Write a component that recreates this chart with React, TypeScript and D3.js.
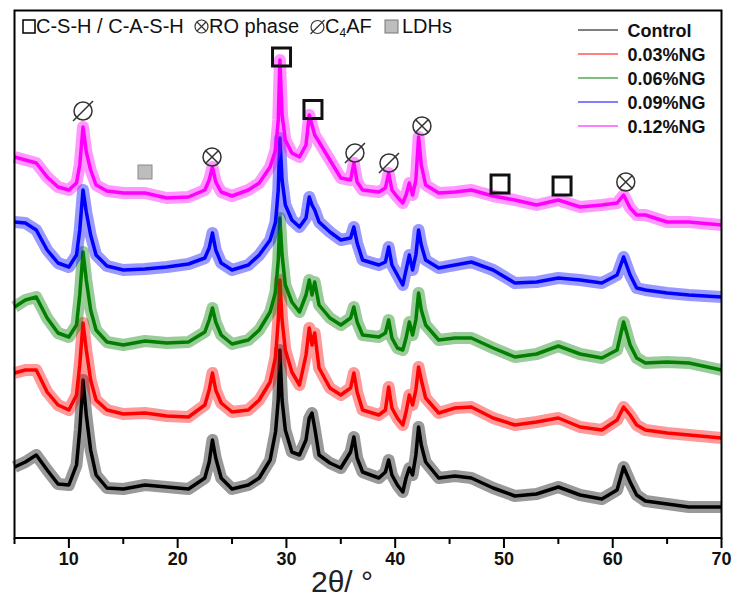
import React from "react";
import * as d3 from "d3";

// 2θ sample positions (degrees)
const twoTheta = [
  5, 6, 7, 8, 9, 10, 10.7, 11.0, 11.3, 11.6,
  12, 12.5, 13.5, 15, 17, 19, 21, 22.5, 22.9, 23.2,
  23.5, 24, 25, 26.5, 27.5, 28.5, 29, 29.25, 29.4, 29.6,
  29.9, 30.5, 31.2, 31.8, 32.1, 32.35, 32.6, 33, 34, 35,
  35.9, 36.2, 36.5, 37, 38.5, 39.1, 39.4, 39.7, 40.2, 40.7,
  41.0, 41.3, 41.6, 41.9, 42.15, 42.4, 42.8, 44, 45.5, 47,
  49, 51, 53, 55, 57, 59, 60.4, 61, 61.6, 62.2,
  63, 65, 67, 70,
];

// stacked intensities (a.u.)
const control = [
  71, 76, 83, 68, 54, 53, 73, 108, 158, 123,
  88, 63, 50, 49, 53, 51, 49, 60, 76, 98,
  80, 60, 49, 53, 60, 78, 106, 138, 188, 138,
  108, 86, 83, 98, 120, 125, 110, 83, 75, 70,
  86, 101, 80, 66, 60, 66, 78, 63, 53, 46,
  60, 70, 63, 83, 111, 93, 76, 60, 62, 60,
  50, 42, 44, 51, 43, 39, 48, 71, 56, 43,
  37, 34, 31, 31,
];
const ng003 = [
  165, 168, 168, 146, 133, 128, 143, 173, 215, 188,
  158, 138, 128, 124, 125, 122, 121, 133, 148, 165,
  148, 135, 126, 128, 138, 156, 181, 218, 258, 218,
  188, 166, 153, 183, 210, 193, 205, 170, 150, 143,
  150, 165, 146, 128, 123, 128, 151, 130, 120, 113,
  126, 143, 133, 148, 171, 158, 140, 125, 130, 131,
  120, 113, 116, 120, 111, 108, 118, 131, 123, 113,
  108, 105, 103, 100,
];
const ng006 = [
  231, 238, 241, 220, 205, 201, 213, 243, 286, 258,
  228, 208, 196, 193, 197, 195, 196, 206, 218, 230,
  216, 203, 194, 198, 208, 226, 246, 278, 320, 283,
  253, 236, 226, 243, 258, 243, 256, 233, 220, 213,
  220, 231, 216, 203, 201, 205, 218, 200, 190, 188,
  200, 216, 203, 218, 245, 228, 213, 198, 200, 200,
  190, 181, 184, 192, 184, 180, 188, 216, 193, 180,
  175, 176, 175, 168,
];
const ng009 = [
  316, 315, 308, 288, 275, 271, 283, 308, 348, 326,
  303, 283, 272, 268, 269, 271, 274, 280, 290, 305,
  288, 275, 268, 273, 283, 298, 316, 348, 400, 358,
  333, 318, 311, 320, 341, 333, 328, 316, 306, 298,
  300, 311, 295, 278, 273, 276, 291, 273, 263, 253,
  268, 283, 268, 283, 308, 293, 278, 270, 273, 276,
  268, 255, 256, 260, 258, 255, 263, 281, 263, 250,
  248, 245, 243, 241,
];
const ng012 = [
  381, 378, 375, 361, 351, 348, 355, 373, 411, 386,
  368, 353, 347, 345, 345, 340, 341, 348, 358, 371,
  356, 346, 342, 348, 355, 371, 388, 418, 478, 423,
  398, 385, 381, 393, 423, 413, 403, 396, 378, 360,
  358, 375, 356, 348, 346, 350, 365, 348, 341, 335,
  343, 355, 343, 358, 401, 373, 353, 345, 346, 348,
  342, 338, 333, 338, 331, 333, 335, 343, 330, 323,
  323, 316, 316, 313,
];

const seriesNames = ["Control", "0.03%NG", "0.06%NG", "0.09%NG", "0.12%NG"];
const seriesColors = ["#000000", "#ff0000", "#007f00", "#0000ff", "#ff00ff"];
const seriesValues = [control, ng003, ng006, ng009, ng012];

const xMajorTicks = [10, 20, 30, 40, 50, 60, 70];
const xMinorTicks = [5, 15, 25, 35, 45, 55, 65];

// peak annotations
const markerTypes = ["phi", "ldh", "ro", "csh", "csh", "phi", "phi", "ro", "csh", "csh", "ro"];
const markerTheta = [11.3, 17.0, 23.16, 29.55, 32.44, 36.3, 39.43, 42.46, 49.64, 55.34, 61.2];
const markerLevel = [427, 366, 381, 481, 428.5, 385, 375, 412, 354, 352, 356];

const FONT = "'Liberation Sans', Arial, Helvetica, sans-serif";

function Marker({ type, cx, cy }: { type: string; cx: number; cy: number }) {
  if (type === "csh") {
    return <rect x={cx - 9} y={cy - 9} width={18} height={18} fill="none" stroke="#111" strokeWidth={3} />;
  }
  if (type === "ldh") {
    return <rect x={cx - 7} y={cy - 7} width={14} height={14} fill="#bdbdbd" stroke="#8a8a8a" strokeWidth={1} />;
  }
  if (type === "ro") {
    const r = 9;
    const d = r * 0.7;
    return (
      <g stroke="#333" strokeWidth={1.5} fill="none">
        <circle cx={cx} cy={cy} r={r} />
        <line x1={cx - d} y1={cy - d} x2={cx + d} y2={cy + d} />
        <line x1={cx - d} y1={cy + d} x2={cx + d} y2={cy - d} />
      </g>
    );
  }
  return (
    <g stroke="#333" strokeWidth={1.5} fill="none">
      <circle cx={cx} cy={cy} r={9} />
      <line x1={cx - 10} y1={cy + 10} x2={cx + 10} y2={cy - 10} />
    </g>
  );
}

export default function App() {
  const W = 734;
  const H = 597;
  const x = d3.scaleLinear().domain([5, 70]).range([14.5, 721.5]);
  const y = d3.scaleLinear().domain([0, 528]).range([538, 10]);
  const line = d3
    .line<number>()
    .x((_, i) => x(twoTheta[i]))
    .y((d) => y(d));

  return (
    <svg
      width={W}
      height={H}
      viewBox={`0 0 ${W} ${H}`}
      style={{ position: "absolute", left: 0, top: 0, display: "block", background: "#fff" }}
    >
      <rect x={0} y={0} width={W} height={H} fill="#fff" />
      {/* series */}
      {seriesValues.map((vals, si) => (
        <g key={si}>
          <path d={line(vals) || ""} fill="none" stroke={seriesColors[si]} strokeWidth={12} strokeOpacity={0.4} strokeLinejoin="round" />
          <path d={line(vals) || ""} fill="none" stroke={seriesColors[si]} strokeWidth={3.5} strokeLinejoin="round" />
        </g>
      ))}

      {/* frame */}
      <rect x={x(5)} y={10.5} width={x(70) - x(5)} height={y(0) - 10.5} fill="none" stroke="#000" strokeWidth={2} />

      {/* ticks */}
      {xMajorTicks.map((t) => (
        <g key={"M" + t}>
          <line x1={x(t)} x2={x(t)} y1={y(0)} y2={y(0) + 10} stroke="#000" strokeWidth={2} />
          <text x={x(t)} y={565} textAnchor="middle" fontFamily={FONT} fontWeight="bold" fontSize={18} fill="#111">
            {t}
          </text>
        </g>
      ))}
      {xMinorTicks.map((t) => (
        <line key={"m" + t} x1={x(t)} x2={x(t)} y1={y(0)} y2={y(0) + 6} stroke="#000" strokeWidth={2} />
      ))}
      <text x={342} y={592} textAnchor="middle" fontFamily="'Liberation Sans Narrow', 'Arial Narrow', 'Liberation Sans', Arial, sans-serif" fontSize={30} fill="#222">
        2θ/ °
      </text>

      {/* peak markers */}
      {markerTypes.map((t, i) => (
        <Marker key={i} type={t} cx={x(markerTheta[i])} cy={y(markerLevel[i])} />
      ))}

      {/* top phase legend */}
      <rect x={23} y={20} width={12} height={13} fill="none" stroke="#000" strokeWidth={1.5} />
      <text x={36} y={33} fontFamily={FONT} fontSize={20} fill="#111">C-S-H / C-A-S-H</text>
      <g stroke="#333" strokeWidth={1.2} fill="none">
        <circle cx={201.5} cy={26.5} r={6.5} />
        <line x1={197} y1={22} x2={206} y2={31} />
        <line x1={197} y1={31} x2={206} y2={22} />
      </g>
      <text x={209} y={33} fontFamily={FONT} fontSize={20} fill="#111">RO phase</text>
      <g stroke="#333" strokeWidth={1.2} fill="none">
        <circle cx={317.5} cy={27} r={6.5} />
        <line x1={310.5} y1={34} x2={324.5} y2={20} />
      </g>
      <text x={325} y={33} fontFamily={FONT} fontSize={20} fill="#111">
        C<tspan fontSize={12} dy={4}>4</tspan>
        <tspan dy={-4}>AF</tspan>
      </text>
      <rect x={385} y={20} width={13} height={13} fill="#bdbdbd" stroke="#777" strokeWidth={1} />
      <text x={402} y={33} fontFamily={FONT} fontSize={20} fill="#111">LDHs</text>

      {/* series legend */}
      {seriesNames.map((n, i) => (
        <g key={n}>
          <line x1={578} x2={618} y1={30 + i * 24} y2={30 + i * 24} stroke={seriesColors[i]} strokeWidth={1.2} />
          <text x={627.5} y={36.5 + i * 24} fontFamily={FONT} fontWeight="bold" fontSize={18} fill="#111">
            {n}
          </text>
        </g>
      ))}
    </svg>
  );
}
